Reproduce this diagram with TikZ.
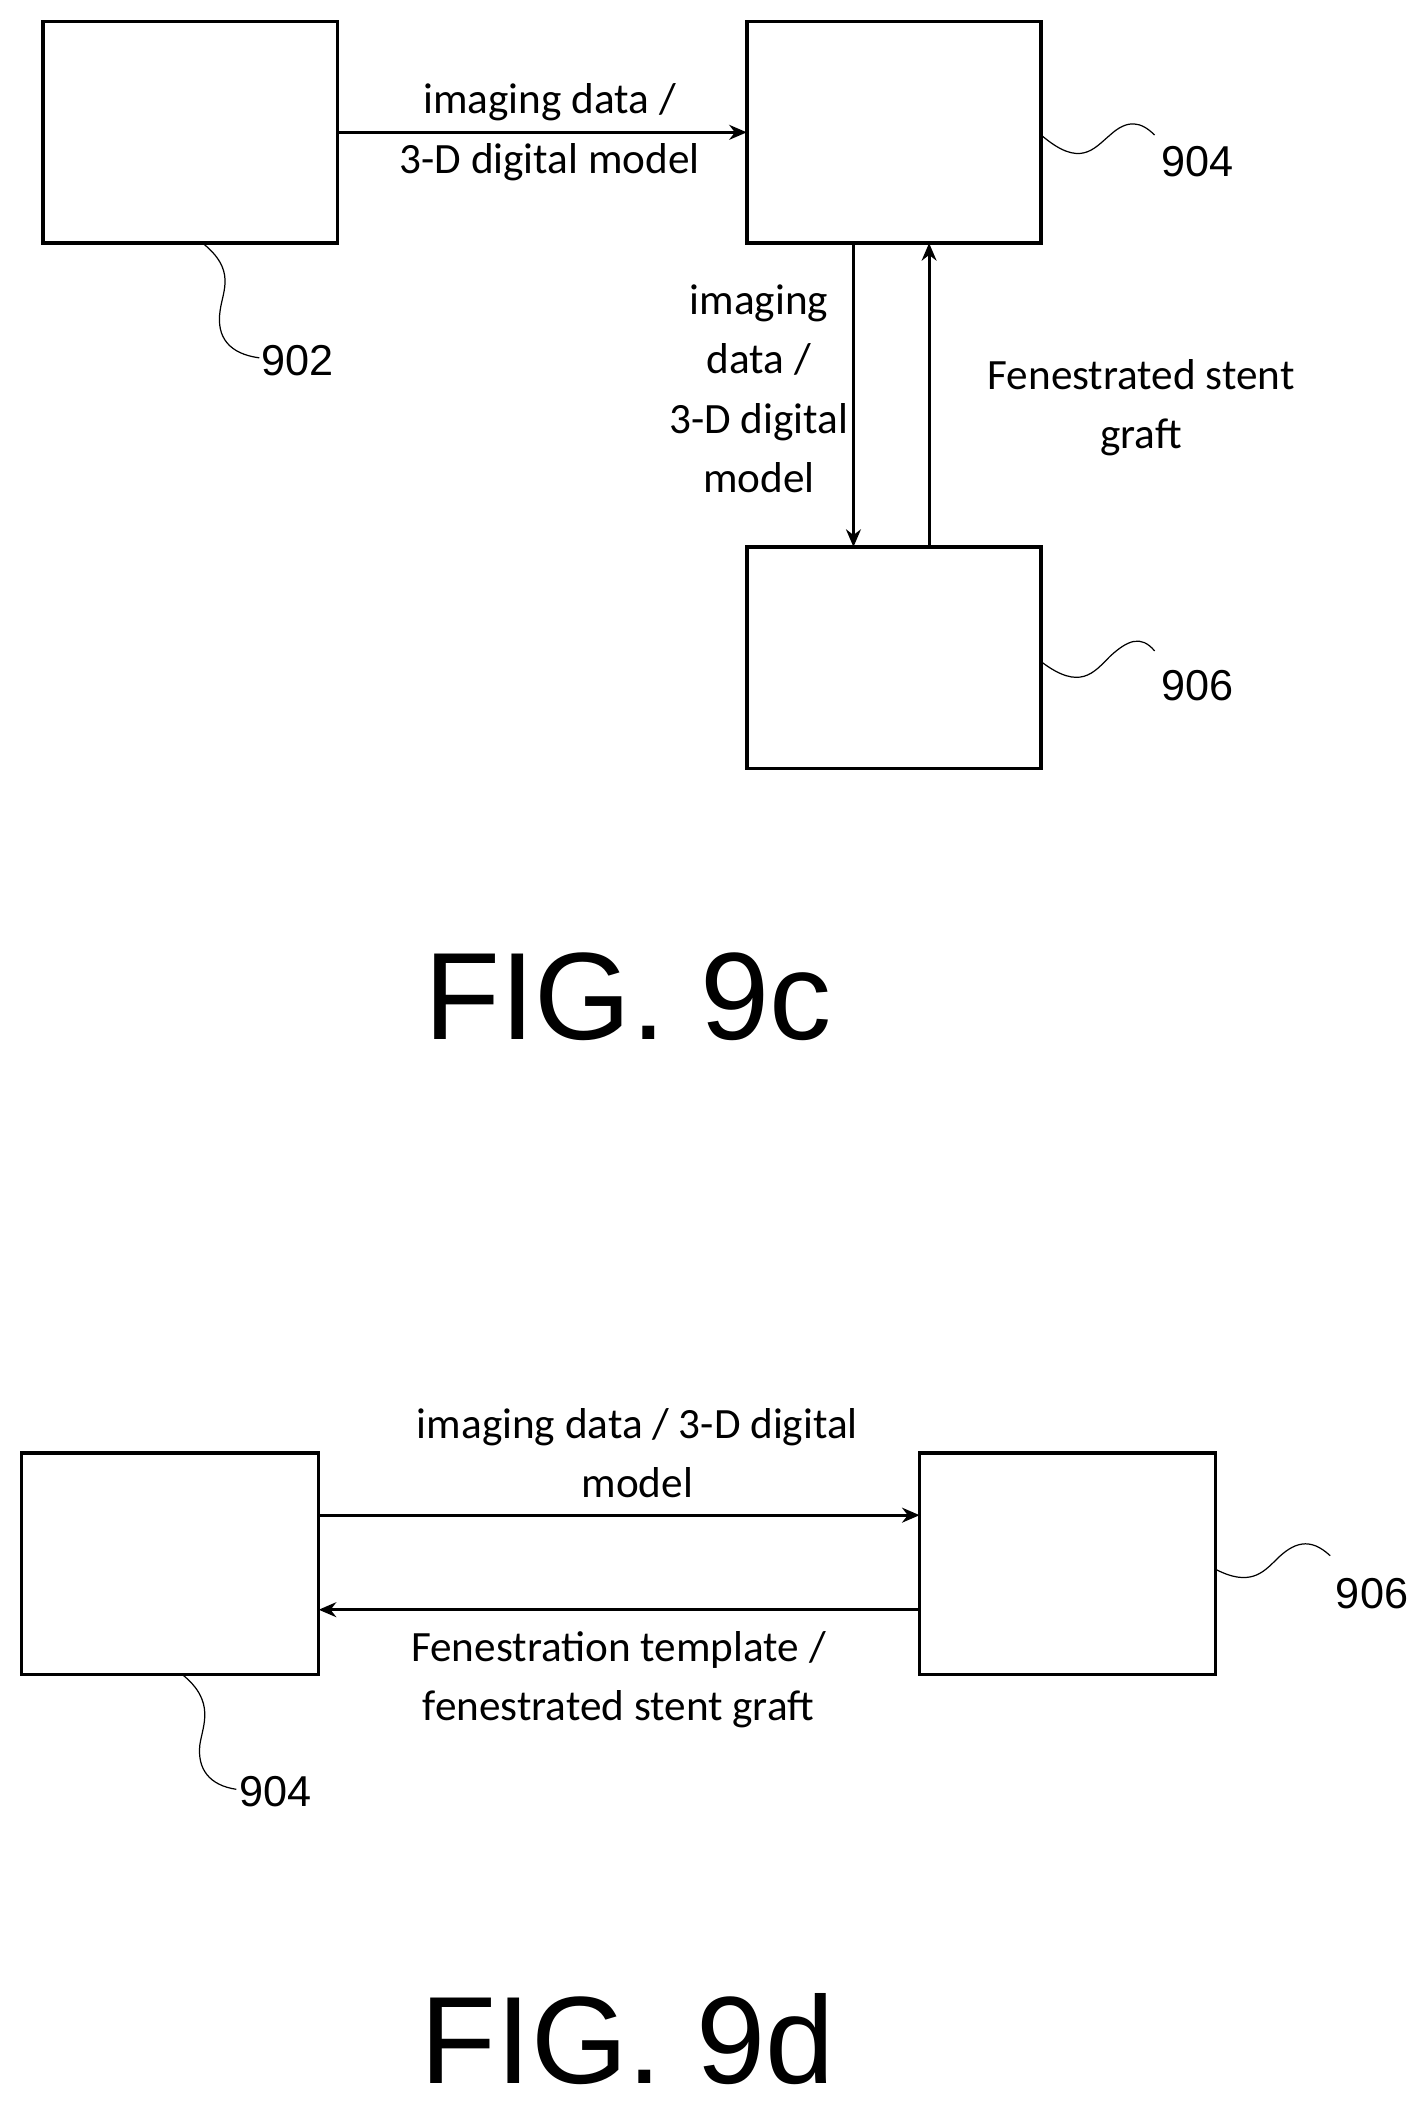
\documentclass[tikz,border=0pt]{standalone}
\usepackage{fontspec}
\setmainfont{Carlito}
\newfontfamily\arialf{Liberation Sans}
\usetikzlibrary{arrows.meta}
\begin{document}
\begin{tikzpicture}[x=1pt,y=-1pt,
 box/.style={draw,line width=2.6pt},
 arr/.style={-{Stealth[length=13pt,width=11pt]},line width=2.2pt},
 lbl/.style={font=\fontsize{32}{44}\selectfont,align=center,inner sep=0pt},
 num/.style={font=\arialf\fontsize{32}{36}\selectfont,inner sep=0pt},
 fig/.style={font=\arialf\fontsize{92}{100}\selectfont,inner sep=0pt},
 sq/.style={line width=0.9pt}]
\useasboundingbox (0,0) rectangle (1056,1561);
% FIG 9c
\draw[box] (32,16) rectangle (250,180);
\draw[box] (553,16) rectangle (771,180);
\draw[box] (553,405) rectangle (771,569);
\coordinate (a1) at (250,98); \coordinate (b1) at (553,98);
\draw[arr] (a1) -- (b1);
\coordinate (d1) at (632,180); \coordinate (d2) at (632,405);
\draw[arr] (d1) -- (d2);
\coordinate (u1) at (688,405); \coordinate (u2) at (688,180);
\draw[arr] (u1) -- (u2);
\node[lbl] (t1) at (407,98) {imaging data /\\3-D digital model};
\node[lbl] (t2) at (562,288) {imaging\\data /\\3-D digital\\model};
\node[lbl] (t3) at (845,302) {Fenestrated stent\\graft};
\node[num] (n904) at (887,120) {904};
\node[num] (n902) at (220,267) {902};
\node[num] (n906) at (887,508) {906};
\draw[sq] (771,100) .. controls (800,125) and (810,110) .. (822,100) .. controls (835,88) and (845,90) .. (855,100);
\draw[sq] (150,180) .. controls (175,200) and (165,215) .. (163,230) .. controls (160,250) and (170,262) .. (192,265);
\draw[sq] (771,490) .. controls (800,512) and (810,498) .. (822,486) .. controls (835,474) and (845,470) .. (855,482);
\node[fig] (f1) at (465,738) {FIG. 9c};
% FIG 9d
\draw[box] (16,1076) rectangle (236,1240);
\draw[box] (681,1076) rectangle (900,1240);
\coordinate (r1) at (236,1122); \coordinate (r2) at (681,1122);
\draw[arr] (r1) -- (r2);
\coordinate (l1) at (681,1192); \coordinate (l2) at (236,1192);
\draw[arr] (l1) -- (l2);
\node[lbl] (t4) at (472,1076) {imaging data / 3-D digital\\model};
\node[lbl] (t5) at (458,1244) {Fenestration template /\\fenestrated stent graft};
\node[num] (n906b) at (1016,1180) {906};
\node[num] (n904b) at (204,1327) {904};
\draw[sq] (900,1162) .. controls (925,1175) and (935,1165) .. (945,1155) .. controls (958,1142) and (970,1138) .. (985,1152);
\draw[sq] (135,1240) .. controls (160,1260) and (150,1278) .. (148,1292) .. controls (146,1310) and (155,1322) .. (175,1325);
\node[fig] (f2) at (465,1510) {FIG. 9d};
\end{tikzpicture}
\end{document}
